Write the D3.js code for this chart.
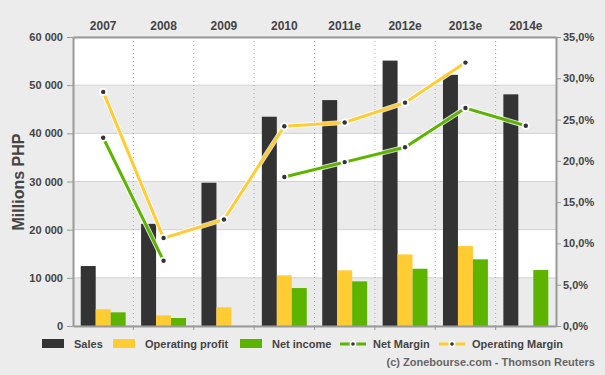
<!DOCTYPE html>
<html>
<head>
<meta charset="utf-8">
<script src="https://cdn.jsdelivr.net/npm/d3@7"></script>
<style>
  body { margin: 0; background: #ececec; }
  #chart { width: 605px; height: 375px; }
  text { font-family: "Liberation Sans", Arial, sans-serif; font-weight: bold; fill: #444; }
</style>
</head>
<body>
<div id="chart"></div>
<script>
var years = ["2007", "2008", "2009", "2010", "2011e", "2012e", "2013e", "2014e"];
var sales = [12450, 21200, 29750, 43450, 46900, 55100, 52150, 48100];
var opProfit = [3470, 2220, 3880, 10520, 11560, 14870, 16600, null];
var netIncome = [2840, 1660, null, 7880, 9270, 11890, 13840, 11620];
var netMargin = [22.8, 7.9, null, 18.05, 19.85, 21.65, 26.4, 24.25];
var opMargin = [28.35, 10.65, 12.9, 24.2, 24.65, 27.05, 31.9, null];
var leftTicks = [0, 10000, 20000, 30000, 40000, 50000, 60000];
var rightTicks = [0, 5, 10, 15, 20, 25, 30, 35];

var width = 605, height = 375;
var margin = {top: 37, left: 73, right: 49, bottom: 49};

var svg = d3.select("#chart")
    .append("svg")
    .attr("width", width)
    .attr("height", height);

var xScale = d3.scaleBand()
    .domain(years)
    .range([margin.left, width - margin.right])
    .padding(0);

var bw = xScale.bandwidth();
var subScale = d3.scaleBand()
    .domain(["sales", "op", "net"])
    .range([bw * 0.128, bw * 0.872]);

var yScale = d3.scaleLinear()
    .domain([0, 60000])
    .range([height - margin.bottom, margin.top]);

var y2Scale = d3.scaleLinear()
    .domain([0, 35])
    .range([height - margin.bottom, margin.top]);

// background bands
svg.selectAll("rect.band")
    .data(leftTicks.slice(0, -1))
    .enter()
    .append("rect")
        .attr("class", "band")
        .attr("x", margin.left)
        .attr("width", width - margin.left - margin.right)
        .attr("y", function(d) { return yScale(d + 10000); })
        .attr("height", function(d) { return yScale(d) - yScale(d + 10000); })
        .attr("fill", function(d, i) { return i % 2 == 0 ? "#ebebeb" : "#ffffff"; });

// horizontal grid
svg.selectAll("line.grid")
    .data(leftTicks)
    .enter()
    .append("line")
        .attr("x1", margin.left)
        .attr("x2", width - margin.right)
        .attr("y1", function(d) { return yScale(d); })
        .attr("y2", function(d) { return yScale(d); })
        .attr("stroke", "#d2d2d2");

// vertical dotted separators
svg.selectAll("line.sep")
    .data(years.slice(1))
    .enter()
    .append("line")
        .attr("x1", function(d) { return xScale(d); })
        .attr("x2", function(d) { return xScale(d); })
        .attr("y1", margin.top)
        .attr("y2", height - margin.bottom)
        .attr("stroke", "#aaa")
        .attr("stroke-dasharray", "1,3");

// bars
var series = [
    {key: "sales", values: sales, color: "#333333"},
    {key: "op", values: opProfit, color: "#ffcc33"},
    {key: "net", values: netIncome, color: "#5cb300"}
];

series.forEach(function(s) {
    svg.selectAll("rect.bar-" + s.key)
        .data(years.map(function(y, i) { return {year: y, v: s.values[i]}; }).filter(function(d) { return d.v != null; }))
        .enter()
        .append("rect")
            .attr("x", function(d) { return xScale(d.year) + subScale(s.key); })
            .attr("width", subScale.bandwidth())
            .attr("y", function(d) { return yScale(d.v); })
            .attr("height", function(d) { return yScale(0) - yScale(d.v); })
            .attr("fill", s.color);
});

// axes
var xAxis = svg.append("g")
    .attr("transform", `translate(0,${height - margin.bottom})`)
    .call(d3.axisBottom(xScale).tickValues([]).tickSizeOuter(0));
xAxis.selectAll(".tick").remove();
xAxis.selectAll("line.sepTick")
    .data(years.slice(1))
    .enter()
    .append("line")
        .attr("x1", function(d) { return xScale(d); })
        .attr("x2", function(d) { return xScale(d); })
        .attr("y1", 0)
        .attr("y2", 4)
        .attr("stroke", "#999");

var topAxis = svg.append("g")
    .attr("transform", `translate(0,${margin.top})`)
    .call(d3.axisTop(xScale).tickSize(0).tickPadding(7).tickSizeOuter(0));
topAxis.selectAll("text").attr("font-size", 12).style("fill", "#444");

var yAxis = svg.append("g")
    .attr("transform", `translate(${margin.left},0)`)
    .call(d3.axisLeft(yScale).tickValues(leftTicks).tickSize(6).tickSizeOuter(0)
        .tickFormat(function(d) { return d3.format(",")(d).replace(",", " "); }));
yAxis.selectAll("text").attr("font-size", 11).attr("dx", -1);

var y2Axis = svg.append("g")
    .attr("transform", `translate(${width - margin.right},0)`)
    .call(d3.axisRight(y2Scale).tickValues(rightTicks).tickSize(5).tickPadding(2).tickSizeOuter(0)
        .tickFormat(function(d) { return d3.format(".1f")(d).replace(".", ",") + "%"; }));
y2Axis.selectAll("text").attr("font-size", 11);

svg.selectAll(".domain").attr("stroke", "#999").attr("stroke-width", 2);
svg.selectAll(".tick line").attr("stroke", "#999");
svg.selectAll(".tick text").attr("font-family", "Liberation Sans, Arial, sans-serif").style("fill", "#444");

// margin lines
var lineSeries = [
    {values: netMargin, color: "#5cb300"},
    {values: opMargin, color: "#ffcc33"}
];

var line = d3.line()
    .defined(function(d) { return d.v != null; })
    .x(function(d) { return xScale(d.year) + bw / 2; })
    .y(function(d) { return y2Scale(d.v); });

lineSeries.forEach(function(s) {
    var pts = years.map(function(y, i) { return {year: y, v: s.values[i]}; });
    svg.append("path")
        .datum(pts)
        .attr("d", line)
        .attr("fill", "none")
        .attr("stroke", "#ffffff")
        .attr("stroke-opacity", 0.8)
        .attr("stroke-width", 5);
    svg.append("path")
        .datum(pts)
        .attr("d", line)
        .attr("fill", "none")
        .attr("stroke", s.color)
        .attr("stroke-width", 3);
    var dots = svg.selectAll(null)
        .data(pts.filter(function(d) { return d.v != null; }))
        .enter();
    dots.append("circle")
        .attr("cx", function(d) { return xScale(d.year) + bw / 2; })
        .attr("cy", function(d) { return y2Scale(d.v); })
        .attr("r", 4)
        .attr("fill", "#ffffff");
    dots.append("circle")
        .attr("cx", function(d) { return xScale(d.year) + bw / 2; })
        .attr("cy", function(d) { return y2Scale(d.v); })
        .attr("r", 2.2)
        .attr("fill", "#333");
});

// y title
svg.append("text")
    .attr("transform", "rotate(-90)")
    .attr("x", -182)
    .attr("y", 24)
    .attr("text-anchor", "middle")
    .attr("font-size", 16)
    .text("Millions PHP");

// legend
var legend = svg.append("g").attr("transform", "translate(0,344)");
var boxItems = [
    {label: "Sales", color: "#333333", x: 42},
    {label: "Operating profit", color: "#ffcc33", x: 113},
    {label: "Net income", color: "#5cb300", x: 240}
];
boxItems.forEach(function(d) {
    legend.append("rect")
        .attr("x", d.x).attr("y", -5)
        .attr("width", 22).attr("height", 9)
        .attr("fill", d.color);
    legend.append("text")
        .attr("x", d.x + 32).attr("y", 4)
        .attr("font-size", 11)
        .text(d.label);
});
var lineItems = [
    {label: "Net Margin", color: "#5cb300", x: 340},
    {label: "Operating Margin", color: "#ffcc33", x: 439}
];
lineItems.forEach(function(d) {
    legend.append("line")
        .attr("x1", d.x).attr("x2", d.x + 26)
        .attr("y1", 0).attr("y2", 0)
        .attr("stroke", d.color).attr("stroke-width", 3);
    legend.append("circle").attr("cx", d.x + 13).attr("cy", 0).attr("r", 3.5).attr("fill", "#fff");
    legend.append("circle").attr("cx", d.x + 13).attr("cy", 0).attr("r", 1.8).attr("fill", "#333");
    legend.append("text")
        .attr("x", d.x + 33).attr("y", 4)
        .attr("font-size", 11)
        .text(d.label);
});

svg.append("text")
    .attr("x", 595)
    .attr("y", 366)
    .attr("text-anchor", "end")
    .attr("font-size", 11)
    .style("fill", "#666")
    .text("(c) Zonebourse.com - Thomson Reuters");
</script>
</body>
</html>
